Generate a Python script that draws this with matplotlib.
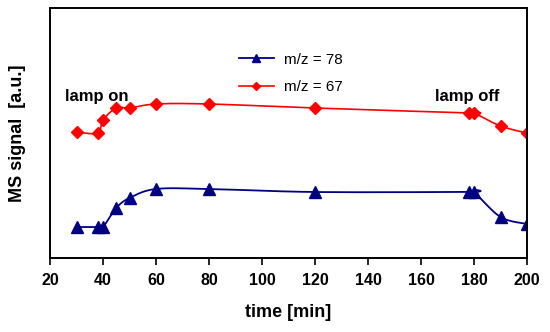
import numpy as np
import matplotlib
matplotlib.use("Agg")
import matplotlib.pyplot as plt
from matplotlib.lines import Line2D

time = [30, 38, 40, 45, 50, 60, 80, 120, 178, 180, 190, 200]
mz78 = [31, 31, 31, 50, 60, 69, 69, 66, 66, 66, 41, 34]
mz67 = [126, 125, 138, 150, 150, 154, 154, 150, 145, 145, 132, 125]
xticks = [20, 40, 60, 80, 100, 120, 140, 160, 180, 200]

plt.rcParams['font.family'] = ['Liberation Sans', 'DejaVu Sans']


def smooth(x, y, n=20):
    x = np.asarray(x, float); y = np.asarray(y, float)
    px = np.concatenate([[x[0]], x, [x[-1]]])
    py = np.concatenate([[y[0]], y, [y[-1]]])
    xs, ys = [], []
    t = np.linspace(0, 1, n)
    for i in range(1, len(px) - 2):
        p0, p1, p2, p3 = (np.array([px[j], py[j]]) for j in (i - 1, i, i + 1, i + 2))
        c1 = p1 + (p2 - p0) / 6.0
        c2 = p2 - (p3 - p1) / 6.0
        for tt in t:
            b = ((1 - tt) ** 3) * p1 + 3 * ((1 - tt) ** 2) * tt * c1 + 3 * (1 - tt) * tt ** 2 * c2 + tt ** 3 * p2
            xs.append(b[0]); ys.append(b[1])
    return xs, ys


fig = plt.figure(figsize=(5.5, 3.32), dpi=100)
ax = fig.add_axes([50 / 550, 1 - 258 / 332, 477 / 550, 250 / 332])

sx, sy = smooth(time, mz78)
ax.plot(sx, sy, color='#000080', lw=1.3)
ax.plot(time, mz78, ls='none', marker='^', ms=8.5, color='#000080')
sx, sy = smooth(time, mz67)
ax.plot(sx, sy, color='#FF0000', lw=1.2)
ax.plot(time, mz67, ls='none', marker='D', ms=6.5, color='#FF0000')

h1 = Line2D([], [], color='#000080', lw=1.3, marker='^', ms=6)
h2 = Line2D([], [], color='#FF0000', lw=1.2, marker='D', ms=4.5)
ax.legend([h1, h2], ['m/z = 78', 'm/z = 67'], frameon=False, fontsize=11,
          loc='upper left', bbox_to_anchor=(0.367, 0.877), handlelength=2.3,
          labelspacing=0.9, handletextpad=0.65)

ax.text(25.7, 162, 'lamp on', fontsize=12, fontweight='bold', va='center')
ax.text(165.3, 162, 'lamp off', fontsize=12, fontweight='bold', va='center')

ax.set_xlim(20, 200)
ax.set_ylim(0, 250)
ax.set_xticks(xticks)
ax.set_xticklabels([str(v) for v in xticks], fontsize=11.5, fontweight='bold')
ax.set_yticks([])
ax.tick_params(axis='x', direction='out', length=5, width=1.2, pad=6)
for s in ax.spines.values():
    s.set_linewidth(1.4)
ax.set_xlabel('time [min]', fontsize=13, fontweight='bold', labelpad=11)
ax.set_ylabel('MS signal  [a.u.]', fontsize=13, fontweight='bold', labelpad=17)

fig.savefig('out.png', dpi=100)
